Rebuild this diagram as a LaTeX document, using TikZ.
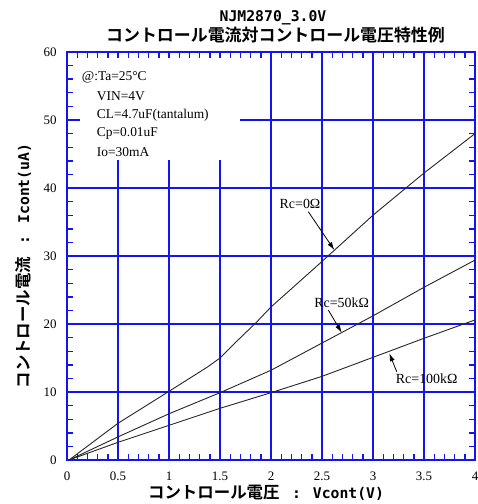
\documentclass[tikz,border=0pt]{standalone}
\usepackage{fontspec}
\usetikzlibrary{arrows.meta}
\setmainfont{Liberation Serif}
\newfontfamily\cjk{Noto Sans CJK JP}[BoldFont={Noto Sans CJK JP Bold}]
\newfontfamily\mono{DejaVu Sans Mono}
\definecolor{gridblue}{RGB}{20,20,240}
\tikzset{
  gridline/.style={draw=gridblue,line width=1.6bp},
  tickline/.style={draw=gridblue,line width=1.4bp},
  curve/.style={black!85,line width=0.9bp,line join=round},
  legendtext/.style={anchor=west,inner sep=0pt,font=\fontsize{13.5}{15}\selectfont},
  rclabel/.style={inner sep=0pt,font=\fontsize{14}{16}\selectfont},
  ticklabel/.style={inner sep=0pt,font=\fontsize{13}{15}\selectfont},
  pointer/.style={black,line width=0.8bp,-{Latex[length=8bp,width=5bp]}},
}
\begin{document}
\begin{tikzpicture}[x=1bp,y=-1bp]
\useasboundingbox[fill=white] (0,0) rectangle (478,504);
% titles
\node[inner sep=0pt,font=\mono\bfseries\fontsize{14.8}{16}\selectfont] (t1) at (273,18) {NJM2870\_3.0V};
\node[inner sep=0pt,font=\cjk\bfseries\fontsize{17}{19}\selectfont] (t2) at (275.5,35) {コントロール電流対コントロール電圧特性例};
% axis titles
\node[inner sep=0pt,font=\cjk\bfseries\fontsize{16.5}{18}\selectfont] (xl) at (266,493) {コントロール電圧 {\mono\bfseries\fontsize{14.8}{16}\selectfont\ : Vcont(V)}};
\node[inner sep=0pt,rotate=90,font=\cjk\bfseries\fontsize{16.5}{18}\selectfont] (yl) at (23,266) {コントロール電流 {\mono\bfseries\fontsize{14.8}{16}\selectfont\ : Icont(uA)}};
\begin{scope}[shift={(67bp,-460bp)},x=102bp,y=6.8bp]
  % grid
  \draw[gridline,xstep=0.5,ystep=10] (0,0) grid (4,60);
\end{scope}
% legend background
\fill[white] (80,57) rectangle (240,160);
\begin{scope}[shift={(67bp,-460bp)},x=102bp,y=6.8bp]
  % ticks
  \foreach \i in {1,...,39} {
    \draw[tickline] (\i/10,0) -- ++(0,0.85);
    \draw[tickline] (\i/10,60) -- ++(0,-0.85);
  }
  \foreach \v in {2,4,...,58} {
    \draw[tickline] (0,\v) -- ++(0.055,0);
    \draw[tickline] (4,\v) -- ++(-0.055,0);
  }
  \draw[draw=gridblue,line width=1.6bp] (0,0) rectangle (4,60);
  % tick labels
  \foreach \u/\t in {0/0,0.5/0.5,1/1,1.5/1.5,2/2,2.5/2.5,3/3,3.5/3.5,4/4}
    \node[ticklabel] (xt\t) at (\u,-2.45) {\t};
  \foreach \v in {0,10,...,60}
    \node[ticklabel,anchor=east] (yt\v) at (-0.1,\v) {\v};
  % curves
  \draw[curve] (0.02,0) -- (0.5,5.4) -- (1,10.1) -- (1.38,13.7) -- (1.5,15) -- (1.66,17.4) -- (1.86,20.3) -- (2,22.5) -- (2.5,29.2) -- (3,36) -- (3.5,42.2) -- (4,48);
  \draw[curve] (0.02,0) -- (0.5,3.4) -- (1,6.8) -- (1.5,9.9) -- (2,13.2) -- (2.5,17.2) -- (3,21.2) -- (3.5,25.4) -- (4,29.4);
  \draw[curve] (0.02,0) -- (0.5,2.6) -- (1,5.1) -- (1.5,7.6) -- (2,9.9) -- (2.5,12.3) -- (3,15.1) -- (3.5,17.9) -- (4,20.6);
\end{scope}
% legend
\node[legendtext] (l1) at (81.7,77.7) {@:Ta=25°C};
\node[legendtext] (l2) at (96.7,96) {VIN=4V};
\node[legendtext] (l3) at (96.7,115.3) {CL=4.7uF(tantalum)};
\node[legendtext] (l4) at (96.7,133.3) {Cp=0.01uF};
\node[legendtext] (l5) at (96.7,151.7) {Io=30mA};
% curve labels with pointers
\node[rclabel] (r0) at (300,204.3) {Rc=0Ω};
\coordinate (s0) at (308.3,211.7);
\coordinate (p0) at (334.3,250);
\draw[pointer] (s0) -- (p0);
\node[rclabel] (r50) at (341.7,302.3) {Rc=50kΩ};
\coordinate (s50) at (328.3,310);
\coordinate (p50) at (341.7,332.7);
\draw[pointer] (s50) -- (p50);
\node[rclabel] (r100) at (426.7,378.3) {Rc=100kΩ};
\coordinate (s100) at (396.7,371.7);
\coordinate (p100) at (389.3,353.3);
\draw[pointer] (s100) -- (p100);
\end{tikzpicture}
\end{document}
